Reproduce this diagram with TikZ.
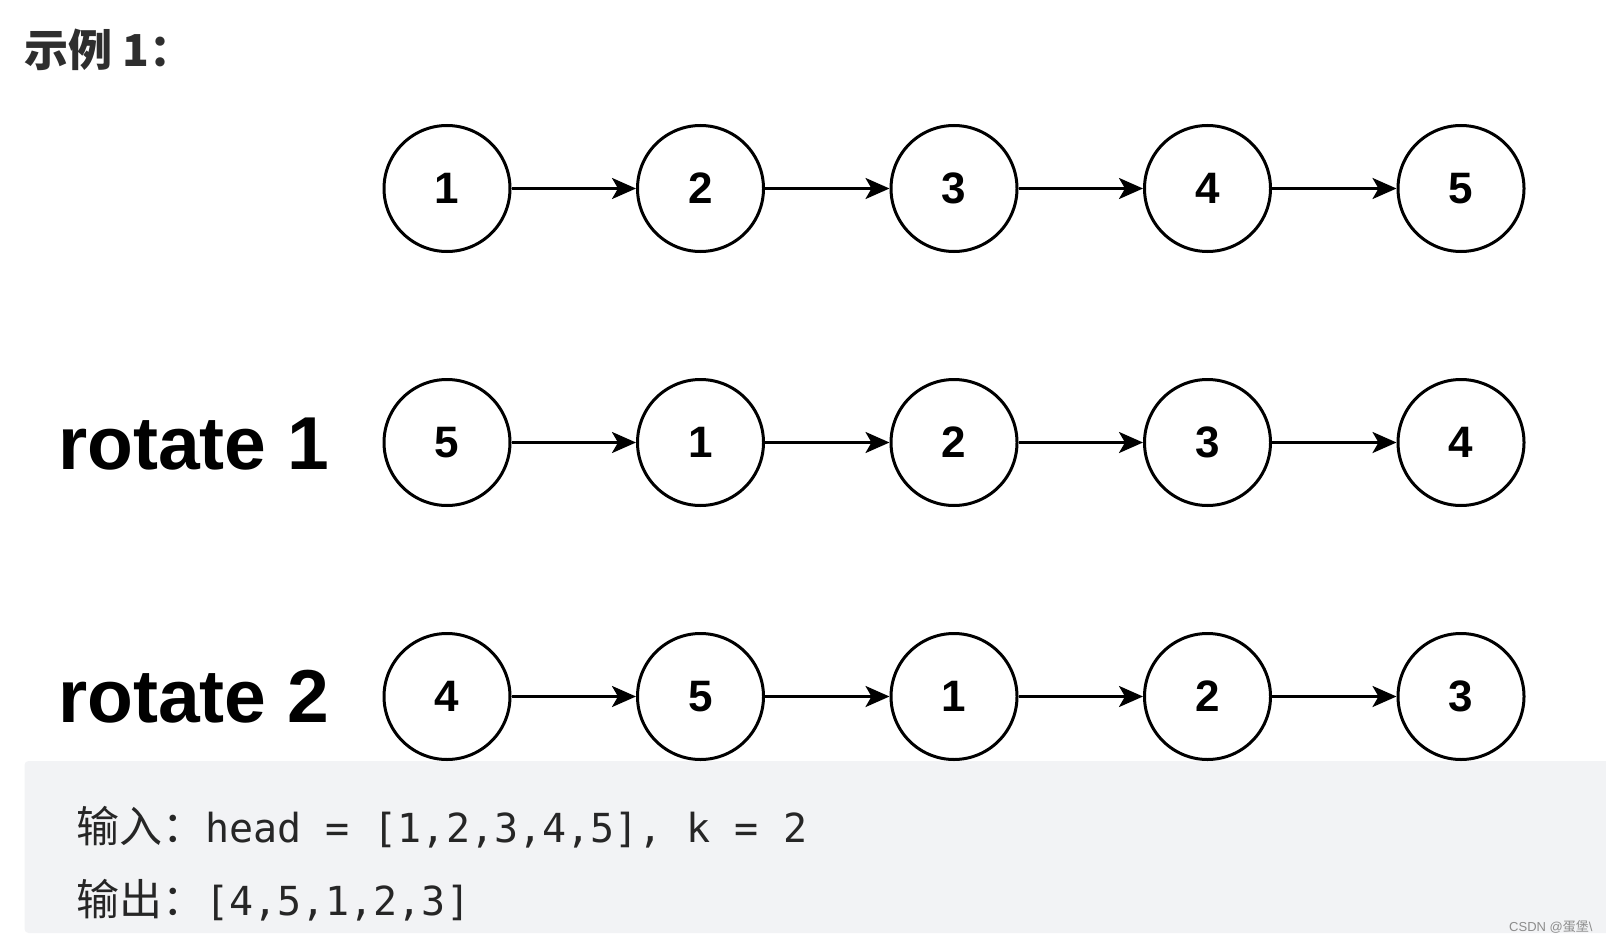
\documentclass[tikz,border=0pt]{standalone}
\usepackage{fontspec}
\setmainfont{Liberation Sans}
\newfontfamily\cjk{Noto Sans CJK SC}
\newfontfamily\codefont{DejaVu Sans Mono}
\usetikzlibrary{arrows.meta}
\definecolor{boxgray}{HTML}{F2F3F5}
\definecolor{titlecol}{HTML}{2E2E2E}
\definecolor{codecol}{HTML}{262626}
\definecolor{markcol}{HTML}{8C8C8C}
\tikzset{
  nd/.style={circle, draw, line width=3pt, minimum size=126pt, inner sep=0pt,
    font=\fontsize{44}{44}\selectfont\bfseries},
  arr/.style={line width=3pt, -{Stealth[length=24pt, width=21pt, inset=6pt]}},
  lbl/.style={anchor=base west, inner sep=0pt, font=\fontsize{75}{80}\selectfont\bfseries},
  txt/.style={anchor=base west, inner sep=0pt, text=codecol}
}
\begin{document}
\begin{tikzpicture}[x=1pt, y=-1pt]
\useasboundingbox (0,0) rectangle (1606,944);
% title
\node[anchor=base west, inner sep=0pt, text=titlecol] (title) at (24,67)
  {\cjk\bfseries\fontsize{44}{44}\selectfont 示例 1：};
% gray box
\fill[boxgray, rounded corners=4pt] (24.5,761) rectangle (1640,933);
% rows
\foreach \r/\y/\vals in {1/188.5/{1,2,3,4,5}, 2/442.5/{5,1,2,3,4}, 3/696.5/{4,5,1,2,3}} {
  \foreach \v [count=\i] in \vals {
    \node[nd] (r\r c\i) at ({447+253.5*(\i-1)}, \y) {\v};
  }
  \foreach \i [evaluate=\i as \j using int(\i+1)] in {1,2,3,4} {
    \draw[arr] (r\r c\i) -- (r\r c\j);
  }
}
% labels
\node[lbl] (rot1) at (58,469) {rotate 1};
\node[lbl] (rot2) at (58,722) {rotate 2};
% code text
\node[txt] (in) at (76,842) {{\cjk\fontsize{43}{43}\selectfont 输入：}{\codefont\fontsize{40}{40}\selectfont head = [1,2,3,4,5], k = 2}};
\node[txt] (out) at (76,915) {{\cjk\fontsize{43}{43}\selectfont 输出：}{\codefont\fontsize{40}{40}\selectfont [4,5,1,2,3]}};
% watermark
\node[anchor=base west, inner sep=0pt, text=markcol] (mark) at (1509,931)
  {\fontsize{13}{13}\selectfont CSDN @{\cjk 蛋堡}\textbackslash};
\end{tikzpicture}
\end{document}
